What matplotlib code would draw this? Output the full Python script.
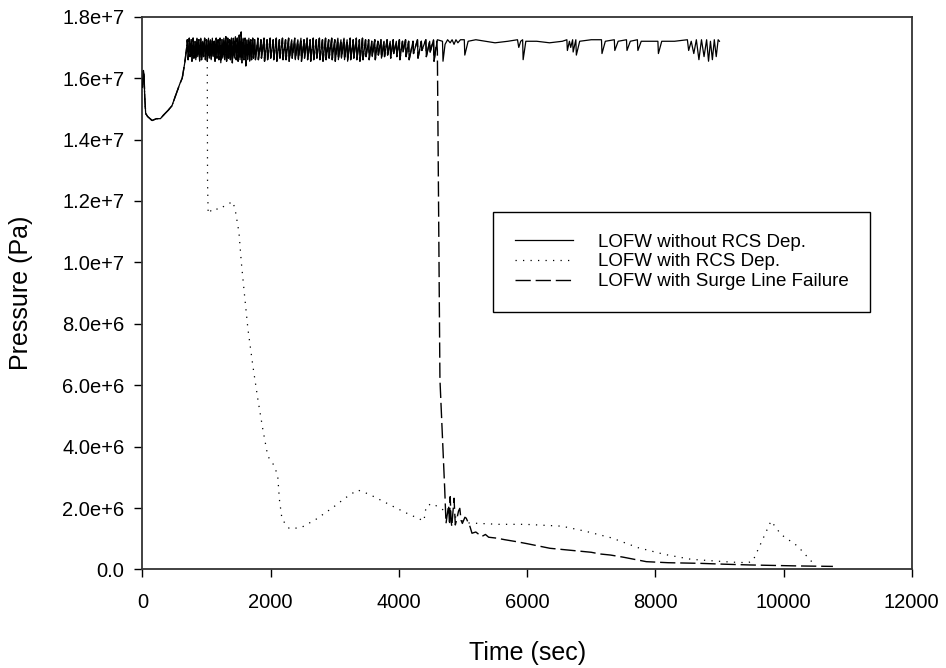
import matplotlib
matplotlib.use("Agg")
import matplotlib.pyplot as plt
import numpy as np

plt.rcParams['font.family'] = ['Liberation Sans', 'DejaVu Sans']

# ---- data (pressure in units of 1e6 Pa) ----
solid_t = [0, 15, 25, 35, 50, 80, 150, 220, 280, 330, 400, 460, 520, 580, 620, 660, 690, 700,
           712, 730, 742, 760, 772, 790, 802, 820, 832, 850, 862, 880, 892, 910, 922, 940, 952, 970, 982,
           1000, 1012, 1030, 1042, 1060, 1072, 1090, 1102, 1120, 1132, 1150, 1162, 1180, 1192, 1210, 1222,
           1240, 1252, 1270, 1282, 1300, 1312, 1330, 1342, 1360, 1372, 1390, 1402, 1420, 1432, 1450, 1462,
           1480, 1492, 1510, 1522, 1540, 1552, 1570, 1582, 1600, 1612, 1630, 1642, 1660, 1672, 1690, 1702,
           1720, 1732, 1750, 1762,
           1800, 1808, 1848, 1856, 1896, 1904, 1944, 1952, 1992, 2000, 2040, 2048, 2088, 2096, 2136, 2144,
           2184, 2192, 2232, 2240, 2280, 2288, 2328, 2336, 2376, 2384, 2424, 2432, 2472, 2480, 2520, 2528,
           2568, 2576, 2616, 2624, 2664, 2672, 2712, 2720, 2760, 2768, 2808, 2816, 2856, 2864, 2904, 2912,
           2952, 2960, 3000, 3008, 3048, 3056, 3096, 3104, 3144, 3152, 3192, 3200, 3240, 3248, 3288, 3296,
           3336, 3344, 3384, 3392, 3432, 3440, 3480, 3488, 3528, 3536, 3576, 3584, 3624, 3632, 3672, 3680,
           3720, 3728, 3768, 3776, 3816, 3824, 3864, 3872, 3912, 3920, 3960, 3968, 4008, 4016, 4056, 4064,
           4104, 4112, 4152, 4160,
           4220, 4228, 4290, 4298, 4350, 4358, 4420, 4428, 4480, 4488, 4540, 4548, 4600,
           4680, 4688, 4720, 4760, 4800, 4830, 4860, 4890, 4920, 4960, 5020, 5028, 5080, 5200, 5350, 5500,
           5700, 5850, 5870, 5900, 5930, 5938, 5980, 6150, 6350, 6550, 6620, 6628, 6660, 6680, 6710, 6718,
           6760, 6768, 6820, 7000, 7160, 7168, 7220, 7360, 7368, 7420, 7550, 7558, 7610, 7720, 7728, 7780,
           8040, 8048, 8100, 8300, 8500, 8520, 8560, 8600, 8640, 8680, 8720, 8760, 8800, 8830, 8860, 8890,
           8920, 8950, 8980, 9000]
solid_p = [15.7, 16.25, 16.1, 15.4, 14.85, 14.75, 14.62, 14.68, 14.68, 14.8, 14.95, 15.1, 15.45, 15.8, 16.0, 16.5, 17.0, 17.25,
           16.6, 17.3, 16.7, 17.25, 16.55, 17.3, 16.65, 17.2, 16.6, 17.3, 16.7, 17.25, 16.55, 17.3, 16.6, 17.2, 16.7, 17.3, 16.6,
           17.25, 16.55, 17.3, 16.65, 17.25, 16.6, 17.3, 16.7, 17.2, 16.55, 17.3, 16.65, 17.25, 16.6, 17.3, 16.5,
           17.25, 16.65, 17.3, 16.6, 17.35, 16.55, 17.3, 16.65, 17.25, 16.6, 17.3, 16.5, 17.3, 16.65, 17.35, 16.6,
           17.3, 16.55, 17.4, 16.6, 17.5, 16.5, 17.3, 16.6, 17.3, 16.4, 17.25, 16.6, 17.3, 16.55, 17.25, 16.6,
           17.3, 16.65, 17.25, 16.6,
           17.3, 16.6, 17.25, 16.65, 17.3, 16.55, 17.25, 16.6, 17.3, 16.65, 17.25, 16.6, 17.3, 16.55, 17.25, 16.65,
           17.3, 16.6, 17.25, 16.6, 17.3, 16.55, 17.25, 16.65, 17.3, 16.6, 17.25, 16.6, 17.3, 16.55, 17.25, 16.65,
           17.3, 16.6, 17.25, 16.55, 17.3, 16.6, 17.25, 16.65, 17.3, 16.6, 17.25, 16.55, 17.3, 16.6, 17.25, 16.65,
           17.3, 16.6, 17.25, 16.55, 17.3, 16.6, 17.25, 16.65, 17.3, 16.6, 17.25, 16.55, 17.3, 16.6, 17.25, 16.65,
           17.3, 16.6, 17.25, 16.55, 17.3, 16.6, 17.25, 16.7, 17.25, 16.6, 17.2, 16.7, 17.25, 16.6, 17.2, 16.75,
           17.25, 16.65, 17.2, 16.7, 17.25, 16.75, 17.2, 16.65, 17.25, 16.8, 17.2, 16.7, 17.25, 16.6, 17.2, 16.85,
           17.25, 16.7, 17.2, 16.6,
           17.2, 16.8, 17.25, 16.65, 17.2, 16.9, 17.25, 16.7, 17.2, 16.85, 17.25, 16.55, 17.25,
           17.2, 16.55, 17.1, 17.25, 17.15, 17.25, 17.1, 17.25, 17.15, 17.25, 17.25, 16.75, 17.2, 17.25, 17.2, 17.15,
           17.2, 17.25, 17.0, 17.2, 17.25, 16.6, 17.2, 17.2, 17.15, 17.2, 17.25, 16.9, 17.2, 17.0, 17.25, 16.85,
           17.25, 16.75, 17.2, 17.25, 17.25, 16.8, 17.2, 17.25, 16.9, 17.2, 17.25, 16.9, 17.2, 17.25, 16.9, 17.2,
           17.2, 16.8, 17.2, 17.2, 17.25, 16.9, 17.2, 16.8, 17.25, 16.6, 17.25, 16.7, 17.25, 16.55, 17.2, 16.6,
           17.25, 16.7, 17.25, 17.2]

# RCS depressurization case: identical to the base case until t = 1010 s
dotted_split = 1010
dotted_tail_t = [1010, 1015, 1025, 1100, 1205, 1283, 1412, 1453, 1505, 1542, 1593, 1645, 1722, 1800, 1877,
                 1955, 2058, 2110, 2136, 2177, 2291, 2472, 2704, 2965, 3172, 3355, 3536, 3846, 4104, 4390,
                 4426, 4520, 4675, 5040, 5555, 5970, 6540, 6900, 7315, 7730, 8145, 8560, 9180, 9440, 9520,
                 9805, 9960, 10220, 10450]
dotted_tail_p = [17.2, 12.6, 11.58, 11.76, 11.72, 11.85, 11.98, 11.63, 10.98, 10.0, 8.91, 7.83, 6.63, 5.54, 4.57,
                 3.69, 3.37, 3.04, 2.28, 1.63, 1.33, 1.36, 1.63, 2.01, 2.34, 2.59, 2.45, 2.12, 1.85, 1.58,
                 2.06, 2.15, 1.96, 1.52, 1.47, 1.47, 1.41, 1.25, 1.03, 0.71, 0.49, 0.33, 0.24, 0.22, 0.27,
                 1.58, 1.14, 0.76, 0.23]

# Surge line failure case: identical to the base case until t = 4590 s
dashed_split = 4590
dashed_tail_t = [4590, 4600, 4640, 4715, 4735, 4750, 4775, 4790, 4800, 4815, 4825, 4860, 4880, 4900, 4930,
                 4950, 4970, 4990, 5030, 5050, 5110, 5140, 5200, 5290, 5350, 5400, 5525, 5650, 5835, 6000,
                 6355, 6700, 7000, 7135, 7300, 7500, 7700, 7860, 8200, 8690, 9100, 9470, 10250, 10770]
dashed_tail_p = [17.2, 16.9, 6.2, 2.6, 1.5, 1.72, 2.1, 1.45, 2.37, 1.6, 1.39, 2.32, 1.45, 1.61, 1.9,
                 1.99, 1.6, 1.5, 1.7, 1.67, 1.39, 1.18, 1.22, 1.07, 1.14, 1.05, 1.02, 0.97, 0.905, 0.84,
                 0.69, 0.62, 0.56, 0.505, 0.47, 0.40, 0.32, 0.254, 0.22, 0.2, 0.17, 0.147, 0.114, 0.10]

labels = ["LOFW without RCS Dep.", "LOFW with RCS Dep.", "LOFW with Surge Line Failure"]
x_ticks = [0, 2000, 4000, 6000, 8000, 10000, 12000]
y_ticks = [0, 2e6, 4e6, 6e6, 8e6, 1e7, 1.2e7, 1.4e7, 1.6e7, 1.8e7]
y_ticklabels = ["0.0", "2.0e+6", "4.0e+6", "6.0e+6", "8.0e+6", "1.0e+7", "1.2e+7", "1.4e+7", "1.6e+7", "1.8e+7"]

# ---- build series ----
st = np.array(solid_t, dtype=float)
sp = np.array(solid_p) * 1e6
m1 = st < dotted_split
dot_t = np.concatenate([st[m1], dotted_tail_t])
dot_p = np.concatenate([sp[m1], np.array(dotted_tail_p) * 1e6])
m2 = st < dashed_split
das_t = np.concatenate([st[m2], dashed_tail_t])
das_p = np.concatenate([sp[m2], np.array(dashed_tail_p) * 1e6])

fig = plt.figure(figsize=(9.46, 6.68), dpi=100)
ax = fig.add_axes([0.1506, 0.1475, 0.8132, 0.8275])

ax.plot(das_t, das_p, color='black', lw=1.0, linestyle=(0, (11, 3.5)), label=labels[2], zorder=2)
ax.plot(dot_t, dot_p, color='black', lw=0.9, linestyle=(0, (1, 5)), label=labels[1], zorder=3)
ax.plot(st, sp, color='black', lw=0.9, linestyle='-', label=labels[0], zorder=4)

ax.set_xlim(0, 12000)
ax.set_ylim(0, 1.8e7)
ax.set_xticks(x_ticks)
ax.set_xticklabels([str(v) for v in x_ticks])
ax.set_yticks(y_ticks)
ax.set_yticklabels(y_ticklabels)
ax.tick_params(direction='out', length=6, width=1, labelsize=14.5, colors='black')
ax.tick_params(axis='x', pad=11)
ax.tick_params(axis='y', pad=7)
for s in ax.spines.values():
    s.set_linewidth(1.3)
    s.set_color('#333333')

ax.set_xlabel("Time (sec)", fontsize=18, labelpad=21)
ax.set_ylabel("Pressure (Pa)", fontsize=18, labelpad=21)

h, l = ax.get_legend_handles_labels()
order = [2, 1, 0]
leg = ax.legend([h[i] for i in order], [l[i] for i in order],
                loc='upper left', bbox_to_anchor=(0.4557, 0.6467),
                fontsize=13.5, frameon=True, fancybox=False, framealpha=1,
                edgecolor='black', handlelength=3.1, handletextpad=1.33,
                borderpad=1.15, labelspacing=0.14, borderaxespad=0)
leg.get_frame().set_linewidth(1.0)

fig.savefig("out.png", dpi=100)
